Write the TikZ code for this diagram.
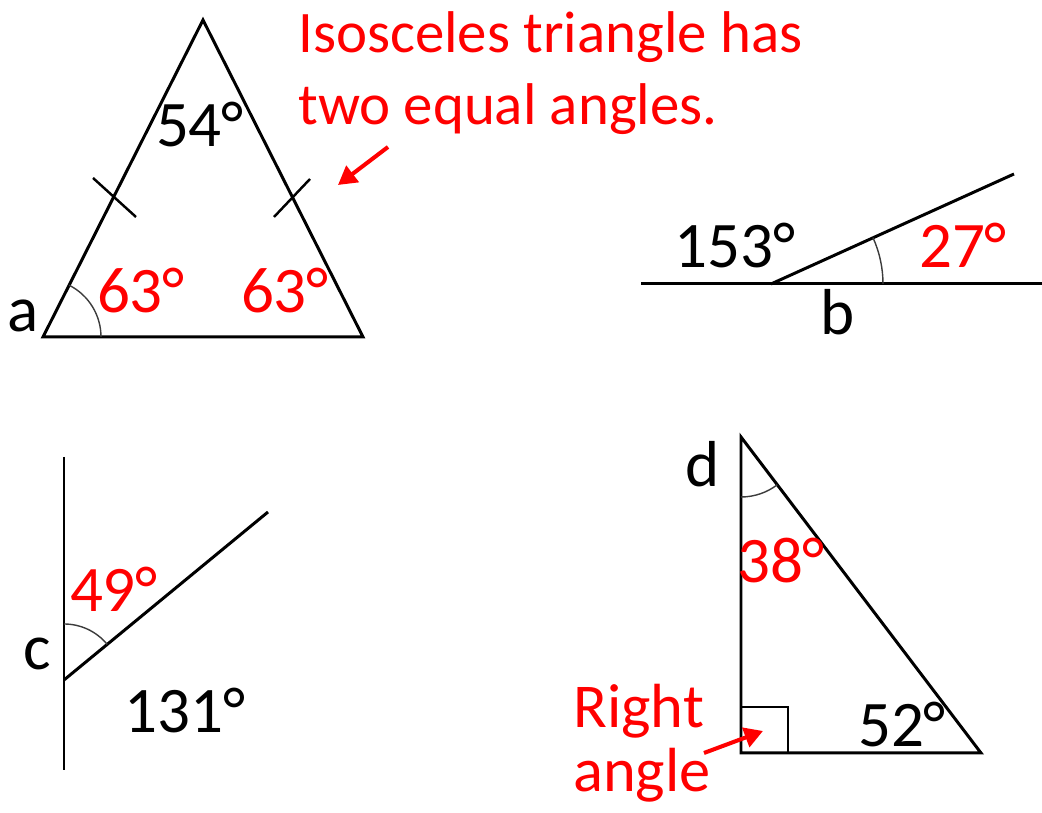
\documentclass[tikz,border=0pt]{standalone}
\usepackage{fontspec}
\setmainfont{Carlito}
\usepackage{tikz}
\usetikzlibrary{arrows.meta,positioning}
\definecolor{notered}{RGB}{255,0,0}
\definecolor{arcgray}{RGB}{60,60,60}
\tikzset{
  figline/.style={line width=1.7pt,line join=miter},
  arcline/.style={line width=0.8pt,color=arcgray},
  tickline/.style={line width=1.4pt},
  marksq/.style={line width=1.1pt},
  lbl/.style={inner sep=0pt,anchor=base,font=\fontsize{37}{44}\selectfont},
  redlbl/.style={lbl,text=notered},
  notetxt/.style={inner sep=0pt,anchor=base west,text=notered,font=\fontsize{33.5}{41}\selectfont},
  rnotetxt/.style={notetxt,font=\fontsize{35.5}{43}\selectfont},
  notearr/.style={-{Triangle[length=10.5pt,width=11.5pt]},line width=2.3pt,color=notered}
}

\begin{document}
\begin{tikzpicture}[x=0.02cm,y=0.02cm]
  \useasboundingbox (0,0) rectangle (1042,813);

  % triangle a
  \coordinate (aTop) at (203,793);
  \coordinate (aL) at (43,476);
  \coordinate (aR) at (363,476);
  \draw[figline] (aTop) -- (aL) -- (aR) -- cycle;
  \draw[tickline] (93,635) -- (136,596);
  \draw[tickline] (310,634) -- (274,596);
  \draw[arcline] (aL) ++(58,0) arc[start angle=0,end angle=63.2,radius=58];
  \node[lbl] (ang54) at (200,666) {54°};
  \node[redlbl] (ang63l) at (141,500) {63°};
  \node[redlbl] (ang63r) at (285,500) {63°};
  \node[lbl] (labA) at (23,481) {a};

  \node[notetxt] (note1) at (298,760) {Isosceles triangle has};
  \node[notetxt] (note2) at (298,688) {two equal angles.};
  \coordinate (noteTail) at (388,666);
  \coordinate (noteTip) at (338,628);
  \draw[notearr] (noteTail) -- (noteTip);

  % angles on a line b
  \coordinate (bL) at (641,529);
  \coordinate (bR) at (1042,529);
  \coordinate (bO) at (771,529);
  \coordinate (bRay) at (1014,639);
  \draw[figline] (bL) -- (bR);
  \draw[figline] (bO) -- (bRay);
  \draw[arcline] (bO) ++(112,0) arc[start angle=0,end angle=24.4,radius=112];
  \node[lbl] (ang153) at (735,545) {153°};
  \node[redlbl] (ang27) at (963,545) {27°};
  \node[lbl] (labB) at (838,478) {b};

  % angles on a line c
  \coordinate (cTop) at (64,356);
  \coordinate (cBot) at (64,43);
  \coordinate (cO) at (64,133);
  \coordinate (cRay) at (268,301);
  \draw[figline] (cTop) -- (cBot);
  \draw[figline] (cO) -- (cRay);
  \draw[arcline] (cO) ++(0,56) arc[start angle=90,end angle=39.5,radius=56];
  \node[redlbl] (ang49) at (114,201) {49°};
  \node[lbl] (labC) at (37,143) {c};
  \node[lbl] (ang131) at (185,80) {131°};

  % right triangle d
  \coordinate (dTop) at (741,376);
  \coordinate (dL) at (741,60);
  \coordinate (dR) at (981,60);
  \draw[figline] (dTop) -- (dL) -- (dR) -- cycle;
  \draw[marksq] (dL) ++(0,46) -| ++(47,-46);
  \draw[arcline] (dTop) ++(0,-60) arc[start angle=270,end angle=307.2,radius=60];
  \node[lbl] (labD) at (703,326) {d};
  \node[redlbl] (ang38) at (781,230) {38°};
  \node[lbl] (ang52) at (902,66) {52°};

  \node[rnotetxt] (rnote1) at (573,85) {Right};
  \node[rnotetxt] (rnote2) at (573,21) {angle};
  \coordinate (rTail) at (704,60);
  \coordinate (rTip) at (763,82);
  \draw[notearr] (rTail) -- (rTip);
\end{tikzpicture}
\end{document}
